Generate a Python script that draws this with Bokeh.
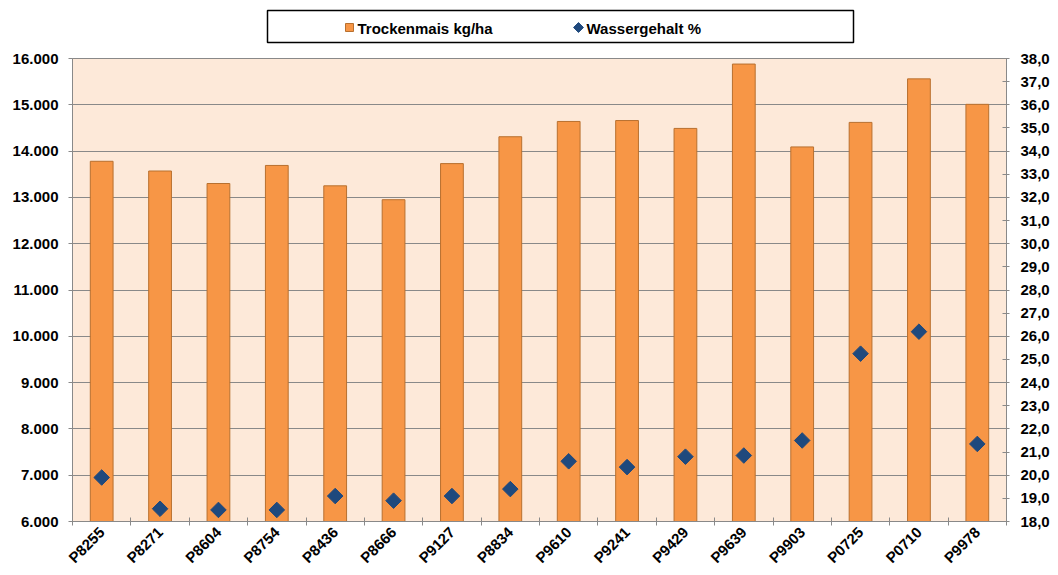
import math
from bokeh.plotting import figure
from bokeh.layouts import column
from bokeh.models import (Range1d, LinearAxis, FixedTicker, ColumnDataSource,
                          CustomJSTickFormatter)
from bokeh.core.properties import value
from bokeh.embed import file_html
from bokeh.resources import INLINE

categories = ["P8255", "P8271", "P8604", "P8754", "P8436", "P8666", "P9127", "P8834",
              "P9610", "P9241", "P9429", "P9639", "P9903", "P0725", "P0710", "P9978"]
trockenmais = [13780, 13570, 13300, 13690, 13250, 12950, 13730, 14310,
               14640, 14660, 14490, 15880, 14090, 14620, 15560, 15010]
wassergehalt = [19.9, 18.55, 18.5, 18.5, 19.1, 18.9, 19.1, 19.4,
                20.6, 20.35, 20.8, 20.85, 21.5, 25.25, 26.2, 21.35]
left_ticks = [6000, 7000, 8000, 9000, 10000, 11000, 12000, 13000, 14000, 15000, 16000]
right_ticks = list(range(18, 39))
series_names = ["Trockenmais kg/ha", "Wassergehalt %"]

FONT = "Liberation Sans"
GRAY = "#898989"
BAR_FILL = "#f79646"
BAR_LINE = "#b8702f"
DOT = "#1f497d"
W = 1056
H = 575
ML, MR = 72, 50   # frame margins (left / right)

# ---------------- legend strip (frame aligned with the chart frame) ----------------
LH = 45
lg = figure(width=W, height=LH, output_backend="svg", toolbar_location=None,
            x_range=Range1d(ML, W - MR), y_range=Range1d(LH, 0),
            x_axis_location=None, y_axis_location=None,
            min_border_left=ML, min_border_right=MR,
            min_border_top=0, min_border_bottom=0)
lg.grid.visible = False
lg.outline_line_color = None
lg.background_fill_color = "white"
lg.border_fill_color = "white"
lg.quad(left=267, right=853, top=10, bottom=42, fill_color="white",
        line_color="black", line_width=1.5)
lg.scatter(x=[349], y=[27], marker="square", size=8, fill_color=BAR_FILL, line_color=BAR_LINE)
lg.scatter(x=[578], y=[27], marker="square", angle=math.pi / 4, size=7,
           fill_color=DOT, line_color=DOT)
lg.text(x=[357, 586], y=[27.5, 27.5], text=series_names, text_baseline="middle",
        text_align="left", text_font=value(FONT), text_font_style="bold",
        text_font_size="15px", text_color="black")

# ---------------- main chart ----------------
xc = [i + 0.5 for i in range(len(categories))]
src = ColumnDataSource(dict(x=xc, t=trockenmais, w=wassergehalt, cat=categories))

p = figure(width=W, height=H - LH, output_backend="svg", toolbar_location=None,
           x_range=Range1d(0, len(categories)), y_range=Range1d(6000, 16000),
           min_border_left=ML, min_border_right=MR, min_border_top=13, min_border_bottom=54)
p.background_fill_color = "#fde9d9"
p.border_fill_color = "white"
p.outline_line_color = GRAY
p.extra_y_ranges = {"w": Range1d(18, 38)}

p.vbar(x="x", top="t", bottom=6000, width=0.39, source=src,
       fill_color=BAR_FILL, line_color=BAR_LINE, line_width=1)
p.scatter(x="x", y="w", source=src, y_range_name="w", marker="square",
          angle=math.pi / 4, size=11, fill_color=DOT, line_color=DOT)

xa = p.xaxis[0]
xa.ticker = FixedTicker(ticks=xc, minor_ticks=list(range(len(categories) + 1)))
xa.formatter = CustomJSTickFormatter(args=dict(cats=categories),
                                     code="return cats[Math.floor(tick)];")
xa.major_tick_line_color = None
xa.minor_tick_in = 4
xa.minor_tick_out = 4
xa.minor_tick_line_color = GRAY
xa.axis_line_color = GRAY
xa.major_label_orientation = math.pi / 4
xa.major_label_standoff = 2
xa.major_label_text_font = FONT
xa.major_label_text_font_style = "bold"
xa.major_label_text_font_size = "15px"
xa.major_label_text_color = "black"

ya = p.yaxis[0]
ya.ticker = FixedTicker(ticks=left_ticks)
ya.formatter = CustomJSTickFormatter(code="return (tick/1000).toFixed(3);")
ya.major_tick_in = 0
ya.major_tick_out = 4
ya.minor_tick_line_color = None
ya.axis_line_color = GRAY
ya.major_tick_line_color = GRAY
ya.major_label_standoff = 10
ya.major_label_text_font = FONT
ya.major_label_text_font_style = "bold"
ya.major_label_text_font_size = "15px"
ya.major_label_text_color = "black"

ra = LinearAxis(y_range_name="w", ticker=FixedTicker(ticks=right_ticks),
                formatter=CustomJSTickFormatter(code="return tick.toFixed(1).replace('.', ',');"))
ra.major_tick_in = 4
ra.major_tick_out = 3
ra.minor_tick_line_color = None
ra.axis_line_color = GRAY
ra.major_tick_line_color = GRAY
ra.major_label_standoff = 11
ra.major_label_text_font = FONT
ra.major_label_text_font_style = "bold"
ra.major_label_text_font_size = "15px"
ra.major_label_text_color = "black"
p.add_layout(ra, "right")

p.xgrid.grid_line_color = None
p.ygrid.ticker = FixedTicker(ticks=left_ticks)
p.ygrid.grid_line_color = GRAY
p.ygrid.grid_line_width = 1

layout = column(lg, p, spacing=0)
open("out.html", "w").write(file_html(layout, INLINE))
